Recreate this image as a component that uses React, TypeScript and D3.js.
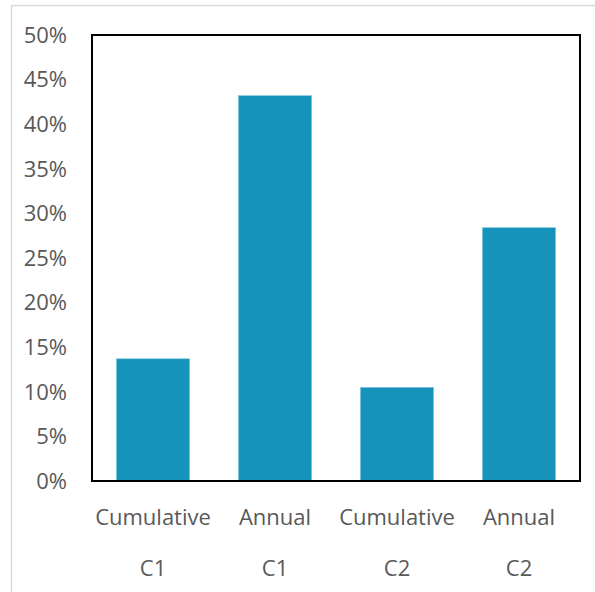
import { useEffect, useRef } from 'react';
import * as d3 from 'd3';

const categories = ['Cumulative C1', 'Annual C1', 'Cumulative C2', 'Annual C2'];
const labelLines = [
  ['Cumulative', 'C1'],
  ['Annual', 'C1'],
  ['Cumulative', 'C2'],
  ['Annual', 'C2'],
];
const values = [0.137, 0.432, 0.105, 0.284];
const yTicks = [0, 0.05, 0.1, 0.15, 0.2, 0.25, 0.3, 0.35, 0.4, 0.45, 0.5];

const App = () => {
  const svgRef = useRef<SVGSVGElement | null>(null);

  useEffect(() => {
    const width = 595;
    const height = 592;
    const margin = { top: 35, right: 15, bottom: 111, left: 92 };
    const font = '"Open Sans", "Noto Sans", sans-serif';
    const textColor = '#595959';

    const svg = d3.select(svgRef.current);
    svg.selectAll('*').remove();
    svg.attr('width', width).attr('height', height);

    // outer chart border
    svg.append('rect')
      .attr('x', 11.5).attr('y', 5.5)
      .attr('width', width).attr('height', height)
      .attr('fill', 'white')
      .attr('stroke', '#d9d9d9')
      .attr('stroke-width', 1.5);

    const x = d3.scaleBand<string>()
      .domain(categories)
      .range([margin.left, width - margin.right])
      .paddingInner(0.4)
      .paddingOuter(0.2);

    const y = d3.scaleLinear()
      .domain([0, 0.5])
      .range([height - margin.bottom, margin.top]);

    // bars
    svg.append('g')
      .selectAll('rect')
      .data(values)
      .enter()
      .append('rect')
      .attr('x', (_, i) => x(categories[i])!)
      .attr('y', d => y(d))
      .attr('width', x.bandwidth())
      .attr('height', d => y(0) - y(d))
      .attr('fill', '#1593ba')
      .attr('stroke', '#7fc6dc')
      .attr('stroke-width', 0.6);

    // plot frame
    svg.append('rect')
      .attr('x', margin.left)
      .attr('y', margin.top)
      .attr('width', width - margin.right - margin.left)
      .attr('height', y(0) - margin.top)
      .attr('fill', 'none')
      .attr('stroke', '#000')
      .attr('stroke-width', 2);

    // y tick labels
    svg.append('g')
      .selectAll('text')
      .data(yTicks)
      .enter()
      .append('text')
      .attr('x', 67)
      .attr('y', d => y(d))
      .attr('dy', '0.35em')
      .attr('text-anchor', 'end')
      .style('font-family', font)
      .style('font-size', '22px')
      .style('fill', textColor)
      .text(d => `${Math.round(d * 100)}%`);

    // category labels, two lines each
    const cat = svg.append('g')
      .selectAll('text')
      .data(labelLines)
      .enter()
      .append('text')
      .attr('text-anchor', 'middle')
      .style('font-family', font)
      .style('font-size', '22px')
      .style('fill', textColor);

    cat.each(function (lines, i) {
      const cx = x(categories[i])! + x.bandwidth() / 2;
      const t = d3.select(this);
      lines.forEach((line, j) => {
        t.append('tspan')
          .attr('x', cx)
          .attr('y', 525 + j * 51)
          .text(line);
      });
    });
  }, []);

  return <svg ref={svgRef} style={{ display: 'block', position: 'absolute', left: 0, top: 0 }}></svg>;
};

export default App;
